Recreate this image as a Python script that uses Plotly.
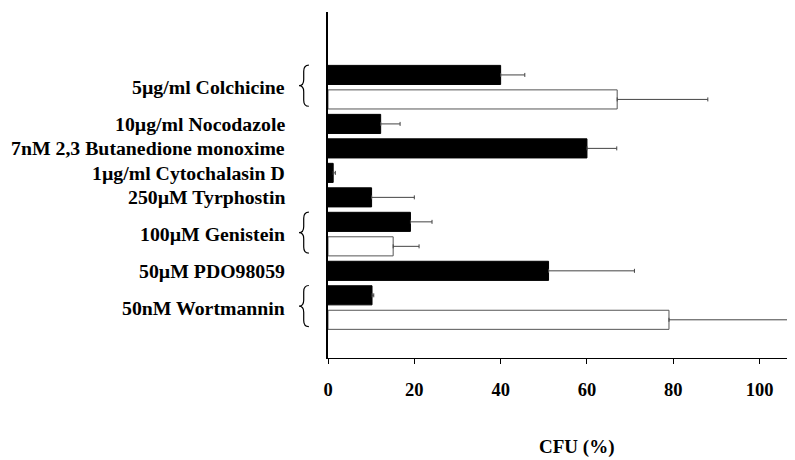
import plotly.graph_objects as go

# ---------------- data ----------------
treatments = [
    "5µg/ml Colchicine",
    "10µg/ml Nocodazole",
    "7nM 2,3 Butanedione monoxime",
    "1µg/ml Cytochalasin D",
    "250µM Tyrphostin",
    "100µM Genistein",
    "50µM PDO98059",
    "50nM Wortmannin",
]
black_values = [40.0, 12.2, 60.0, 1.2, 10.1, 19.1, 51.1, 10.2]
black_errors = [5.6, 4.5, 6.9, 0.5, 9.9, 5.0, 19.9, 0.4]
white_values = [67.0, None, None, None, None, 15.1, None, 79.0]
white_errors = [21.0, None, None, None, None, 6.0, None, 32.0]
x_ticks = [0, 20, 40, 60, 80, 100]
x_title = "CFU (%)"

# ---------------- slot layout derived from data order ----------------
black_slots, white_slots, wv, we = [], [], [], []
label_slots, brace_spans = [], []
slot = 0
for i, name in enumerate(treatments):
    first = slot
    black_slots.append(slot)
    slot += 1
    if white_values[i] is not None:
        white_slots.append(slot)
        wv.append(white_values[i])
        we.append(white_errors[i])
        brace_spans.append((first, slot))
        label_slots.append(first + 0.5)
        slot += 1
    else:
        label_slots.append(first)

FONT = "Liberation Serif, Times New Roman, serif"
BAR_W = 0.78

fig = go.Figure()
fig.add_trace(go.Bar(
    orientation="h", y=black_slots, x=black_values, width=BAR_W,
    marker=dict(color="black", line=dict(color="black", width=1)),
    error_x=dict(type="data", symmetric=False, array=black_errors,
                 arrayminus=[0] * len(black_errors), color="#444444",
                 thickness=1, width=2),
    hoverinfo="skip", showlegend=False,
))
fig.add_trace(go.Bar(
    orientation="h", y=white_slots, x=wv, width=BAR_W,
    marker=dict(color="white", line=dict(color="#555555", width=1)),
    error_x=dict(type="data", symmetric=False, array=we,
                 arrayminus=[0] * len(we), color="#444444",
                 thickness=1, width=2),
    hoverinfo="skip", showlegend=False,
))

annotations = []
for name, ys in zip(treatments, label_slots):
    annotations.append(dict(
        text="<b>" + name + "</b>", xref="paper", yref="y", x=-0.088, y=ys,
        xanchor="right", yanchor="middle", showarrow=False,
        font=dict(family=FONT, size=19.8, color="black"),
    ))
annotations.append(dict(
    text="<b>" + x_title + "</b>", xref="paper", yref="paper", x=0.533, y=-0.257,
    xanchor="center", yanchor="middle", showarrow=False,
    font=dict(family=FONT, size=19, color="black"),
))

shapes = []
xr, xm, xl = -0.041, -0.052, -0.062
for a, b in brace_spans:
    y0, y1 = a - 0.4, b + 0.28
    ym = (y0 + y1) / 2
    h = 0.25
    path = (f"M{xr},{y0} Q{xm},{y0} {xm},{y0 + h} L{xm},{ym - h} "
            f"Q{xm},{ym} {xl},{ym} Q{xm},{ym} {xm},{ym + h} "
            f"L{xm},{y1 - h} Q{xm},{y1} {xr},{y1}")
    shapes.append(dict(type="path", xref="paper", yref="y", path=path,
                       line=dict(color="black", width=1.2)))

# page adds an 8px body margin, so the figure is sized/placed to compensate
fig.update_layout(
    width=787, height=452,
    margin=dict(l=320, r=0, t=4, b=102),
    paper_bgcolor="white", plot_bgcolor="white",
    barmode="overlay",
    font=dict(family=FONT, color="black"),
    annotations=annotations, shapes=shapes,
    xaxis=dict(
        range=[0, 108.2], tickvals=x_ticks,
        ticktext=["<b>%d</b>" % t for t in x_ticks],
        ticks="outside", ticklen=5, tickcolor="black", tickwidth=1,
        showline=True, linecolor="black", linewidth=1,
        showgrid=False, zeroline=False,
        tickfont=dict(family=FONT, size=18.5, color="black"),
        ticklabelstandoff=10,
    ),
    yaxis=dict(
        range=[11.56, -2.57], showticklabels=False, ticks="",
        showline=True, linecolor="black", linewidth=1.5,
        showgrid=False, zeroline=False,
    ),
)

fig.write_html("out.html")
